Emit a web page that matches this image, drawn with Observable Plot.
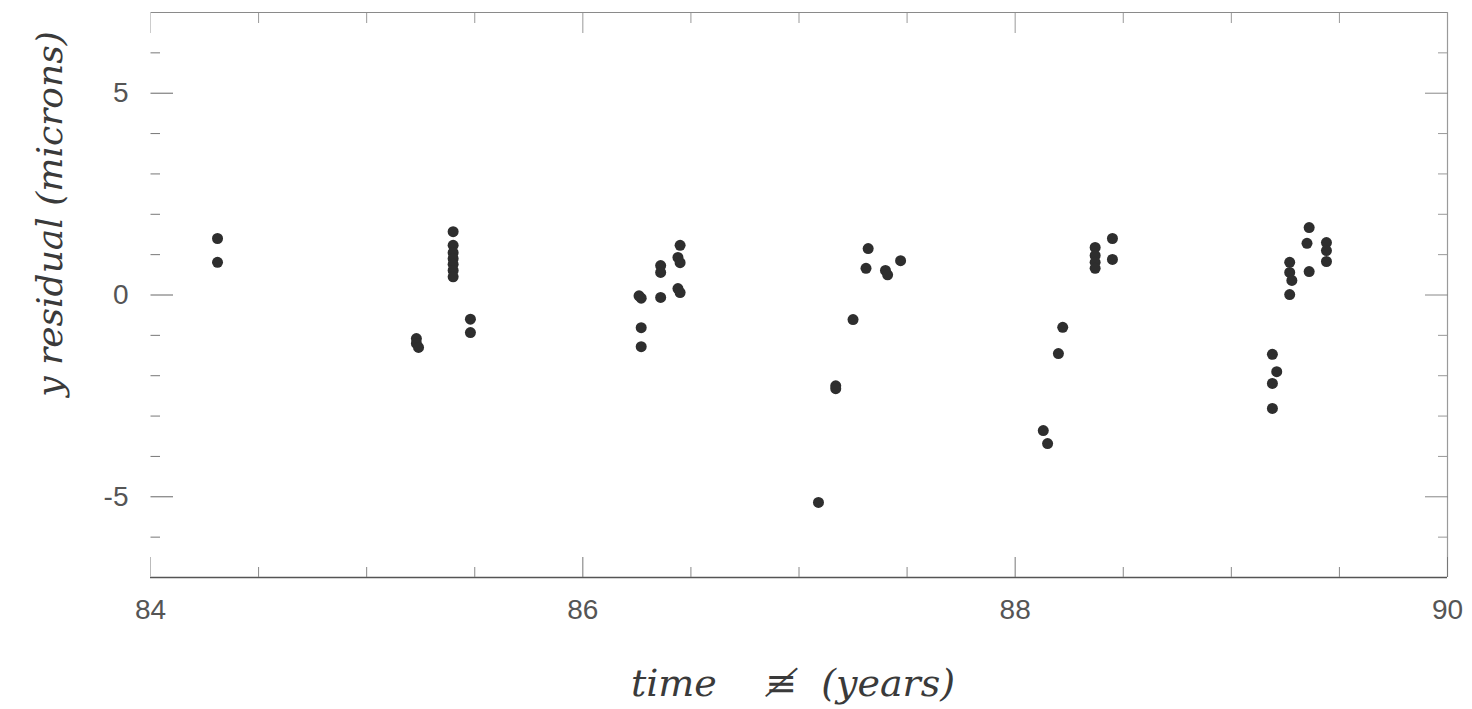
<!DOCTYPE html>
<html>
<head>
<meta charset="utf-8">
<script src="https://cdn.jsdelivr.net/npm/d3@7"></script>
<script src="https://cdn.jsdelivr.net/npm/@observablehq/plot@0.6"></script>
<style>
  html, body { margin: 0; padding: 0; background: #ffffff; }
  #chart svg { display: block; }
</style>
</head>
<body>
<div id="chart"></div>
<script>
// Observation epochs (years, 19xx) and y residuals (microns)
const time = [
  84.31, 84.31,
  85.23, 85.23, 85.24,
  85.40, 85.40, 85.40, 85.40, 85.40, 85.40, 85.40,
  85.48, 85.48,
  86.26, 86.27, 86.27, 86.27,
  86.36, 86.36, 86.36,
  86.45, 86.44, 86.45, 86.44, 86.45,
  87.09, 87.17, 87.17, 87.25, 87.32, 87.31, 87.40, 87.41, 87.47,
  88.13, 88.15, 88.20, 88.22, 88.37, 88.37, 88.37, 88.37, 88.45, 88.45,
  89.19, 89.21, 89.19, 89.19, 89.27, 89.27, 89.28, 89.27, 89.36, 89.35, 89.36, 89.44, 89.44, 89.44
];
const residual = [
  1.40, 0.81,
  -1.08, -1.20, -1.30,
  1.57, 1.23, 1.05, 0.90, 0.76, 0.61, 0.45,
  -0.60, -0.93,
  -0.02, -0.08, -0.81, -1.28,
  0.73, 0.56, -0.06,
  1.23, 0.93, 0.80, 0.16, 0.06,
  -5.14, -2.25, -2.32, -0.61, 1.15, 0.66, 0.61, 0.50, 0.85,
  -3.36, -3.68, -1.45, -0.80, 1.18, 0.98, 0.81, 0.66, 1.40, 0.88,
  -1.47, -1.90, -2.19, -2.81, 0.81, 0.56, 0.36, 0.01, 1.67, 1.28, 0.58, 1.30, 1.10, 0.83
];

// Axis ticks and labels
const xDomain = [84, 90];
const yDomain = [-7, 7];
const xMajorTicks = [84, 86, 88, 90];
const xMinorTicks = [84.5, 85, 85.5, 86.5, 87, 87.5, 88.5, 89, 89.5];
const yMajorTicks = [-5, 0, 5];
const yMinorTicks = [-6, -4, -3, -2, -1, 1, 2, 3, 4, 6];
const xLabel = "time    \u2262  (years)";
const yLabel = "y residual (microns)";

const points = time.map((t, i) => ({time: t, residual: residual[i]}));

const blank = () => "";
const plain = (d) => String(d);
const hand = {fontFamily: "DejaVu Serif", fontStyle: "italic", fill: "#3a3a3a", textAnchor: "middle", lineAnchor: "middle"};

const chart = Plot.plot({
  width: 1472,
  height: 709,
  marginLeft: 150,
  marginRight: 25,
  marginTop: 12,
  marginBottom: 132,
  style: {fontFamily: "Liberation Sans, Arial, sans-serif", fontSize: "28px", color: "#555", background: "#ffffff"},
  x: {domain: xDomain},
  y: {domain: yDomain},
  marks: [
    // frame sides (top, bottom, right)
    Plot.ruleY([yDomain[1]], {stroke: "#8a8a8a", strokeWidth: 1.2}),
    Plot.ruleY([yDomain[0]], {stroke: "#555", strokeWidth: 1.6}),
    Plot.ruleX([xDomain[1]], {stroke: "#9a9a9a", strokeWidth: 1.2}),
    // inward ticks, bottom
    Plot.axisX(xMinorTicks, {anchor: "bottom", tickSize: -10, tickFormat: blank, stroke: "#888", label: null}),
    Plot.axisX(xMajorTicks, {anchor: "bottom", tickSize: -20, tickFormat: blank, stroke: "#777", label: null}),
    Plot.axisX(xMajorTicks, {anchor: "bottom", tickSize: 0, tickPadding: 22, tickFormat: plain, fill: "#555", fontSize: 28, label: null}),
    // inward ticks, top
    Plot.axisX(xMinorTicks, {anchor: "top", tickSize: -10, tickFormat: blank, stroke: "#999", label: null}),
    Plot.axisX(xMajorTicks, {anchor: "top", tickSize: -20, tickFormat: blank, stroke: "#999", label: null}),
    // inward ticks, left
    Plot.axisY(yMinorTicks, {anchor: "left", tickSize: -10, tickFormat: blank, stroke: "#777", label: null}),
    Plot.axisY(yMajorTicks, {anchor: "left", tickSize: -23, tickFormat: blank, stroke: "#666", label: null}),
    Plot.axisY(yMajorTicks, {anchor: "left", tickSize: 0, tickPadding: 22, tickFormat: plain, fill: "#555", fontSize: 28, label: null}),
    // inward ticks, right
    Plot.axisY(yMinorTicks, {anchor: "right", tickSize: -10, tickFormat: blank, stroke: "#999", label: null}),
    Plot.axisY(yMajorTicks, {anchor: "right", tickSize: -23, tickFormat: blank, stroke: "#888", label: null}),
    // data
    Plot.dot(points, {x: "time", y: "residual", r: 5.5, fill: "#2e2e2e", stroke: null}),
    // hand-written axis titles
    Plot.text([yLabel], {frameAnchor: "left", rotate: -90, dx: -100, dy: -81, fontSize: 36, ...hand}),
    Plot.text([xLabel], {frameAnchor: "bottom", dy: 106, dx: -6, fontSize: 38, ...hand}),
    // the left edge of the frame is faded out in the scanned original
    Plot.ruleX([xDomain[0]], {stroke: "#ffffff", strokeWidth: 2, dx: -1})
  ]
});

document.getElementById("chart").appendChild(chart);
</script>
</body>
</html>
